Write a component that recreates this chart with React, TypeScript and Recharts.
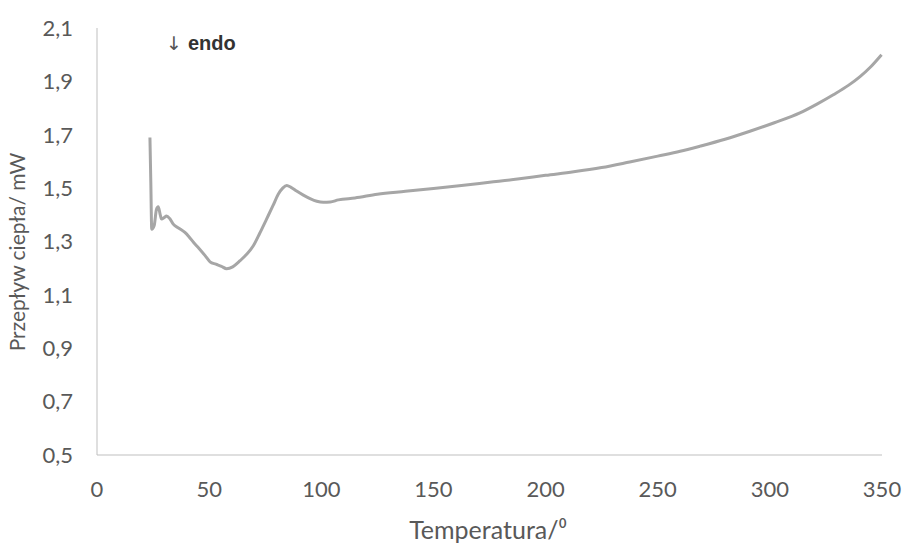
import { LineChart, Line, XAxis, YAxis, Label } from 'recharts'

const temperature = [
  23.6, 24.0, 24.4, 25.5, 26.5, 27.3, 28.2, 28.8, 30.0, 31.0, 32.5, 34.0, 36.5, 39.2, 41.0, 43.0, 45.5,
  48.2, 50.4, 53.0, 55.5, 57.8, 60.5, 63.8, 66.5, 69.7, 72.5, 75.6, 78.5, 80.8, 82.8, 84.6, 86.5, 89.0,
  92.0, 95.0, 98.0, 100.9, 104.0, 107.6, 115, 125, 137.5, 150, 162.5, 175, 187.5, 200, 212.5, 225,
  237.5, 250, 260, 268.8, 280, 291.1, 302, 313.4, 321, 328.3, 335, 340.2, 345, 349.8,
]

const heatFlow = [
  1.69, 1.52, 1.346, 1.36, 1.42, 1.43, 1.4, 1.384, 1.39, 1.396, 1.385, 1.365, 1.35, 1.334, 1.318, 1.297,
  1.274, 1.247, 1.224, 1.215, 1.207, 1.198, 1.205, 1.228, 1.25, 1.284, 1.33, 1.384, 1.435, 1.477, 1.5,
  1.51, 1.503, 1.489, 1.474, 1.461, 1.451, 1.447, 1.448, 1.456, 1.463, 1.477, 1.488, 1.499, 1.51, 1.522,
  1.534, 1.548, 1.561, 1.577, 1.598, 1.62, 1.638, 1.657, 1.683, 1.713, 1.745, 1.782, 1.815, 1.85, 1.885,
  1.918, 1.955, 2.0,
]

const xTicks = [0, 50, 100, 150, 200, 250, 300, 350]
const yTicks = [0.5, 0.7, 0.9, 1.1, 1.3, 1.5, 1.7, 1.9, 2.1]

const data = temperature.map((t, i) => ({ t, v: heatFlow[i] }))

const FONT = 'Lato, "Open Sans", sans-serif'
const TICK_STYLE = { fontSize: 22, fill: '#595959', fontFamily: FONT }
const AXIS_LINE = { stroke: '#bfbfbf', strokeWidth: 1 }

export default function App() {
  return (
    <div style={{ position: 'absolute', left: 0, top: 0, width: 903, height: 544, background: '#fff' }}>
      <LineChart width={903} height={544} data={data} margin={{ top: 28, right: 21, bottom: 0, left: 0 }}>
        <XAxis
          dataKey="t"
          type="number"
          domain={[0, 350]}
          ticks={xTicks}
          axisLine={AXIS_LINE}
          tickLine={false}
          tickSize={0}
          tickMargin={26}
          tick={TICK_STYLE}
          height={89}
          interval={0}
        >
          <Label
            content={() => (
              <text x={488} y={539} textAnchor="middle" fontSize={25} fill="#595959" fontFamily={FONT}>
                Temperatura/⁰
              </text>
            )}
          />
        </XAxis>
        <YAxis
          type="number"
          domain={[0.5, 2.1]}
          ticks={yTicks}
          axisLine={AXIS_LINE}
          tickLine={false}
          tickSize={0}
          tickMargin={24}
          tick={TICK_STYLE}
          width={97}
          interval={0}
          tickFormatter={(v: number) => v.toFixed(1).replace('.', ',')}
        >
          <Label
            content={() => (
              <text
                x={25}
                y={252}
                transform="rotate(-90 25 252)"
                textAnchor="middle"
                fontSize={21}
                fill="#595959"
                fontFamily={FONT}
              >
                Przepływ ciepła/ mW
              </text>
            )}
          />
        </YAxis>
        <Line
          type="monotone"
          dataKey="v"
          stroke="#a6a6a6"
          strokeWidth={3}
          dot={false}
          activeDot={false}
          isAnimationActive={false}
        />
      </LineChart>
      <div
        style={{
          position: 'absolute',
          left: 166,
          top: 32,
          fontFamily: '"Liberation Sans", Arial, sans-serif',
          fontSize: 20,
          color: '#333',
          whiteSpace: 'nowrap',
        }}
      >
        <span style={{ color: '#555', fontFamily: '"DejaVu Sans", sans-serif', fontSize: 19 }}>↓</span>
        <span style={{ fontWeight: 'bold', marginLeft: 6 }}>endo</span>
      </div>
    </div>
  )
}
